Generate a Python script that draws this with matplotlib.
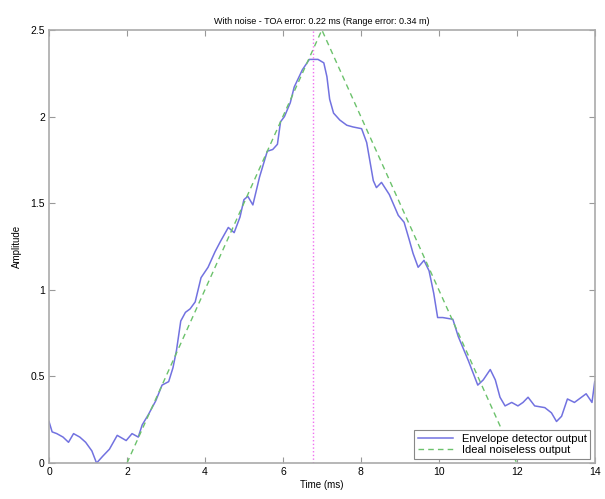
import matplotlib
matplotlib.use('Agg')
import matplotlib.pyplot as plt
import numpy as np

# envelope detector output
env_t = [0.0, 0.08, 0.2, 0.36, 0.5, 0.63, 0.79, 0.94, 1.1, 1.22, 1.38, 1.55, 1.75,
         1.98, 2.13, 2.29, 2.39, 2.55, 2.74, 2.9, 3.07, 3.18, 3.27, 3.38, 3.5, 3.62,
         3.75, 3.9, 4.08, 4.26, 4.4, 4.6, 4.75, 4.9, 5.0, 5.1, 5.23, 5.4, 5.6, 5.74,
         5.86, 5.94, 6.04, 6.19, 6.29, 6.5, 6.68, 6.75, 6.9, 7.05, 7.13, 7.2, 7.3,
         7.46, 7.64, 7.8, 8.02, 8.15, 8.32, 8.4, 8.53, 8.73, 8.96, 9.11, 9.24, 9.34,
         9.47, 9.62, 9.75, 9.87, 9.97, 10.1, 10.36, 10.5, 10.76, 11.0, 11.14, 11.32,
         11.45, 11.57, 11.7, 11.87, 12.03, 12.16, 12.29, 12.46, 12.72, 12.89, 13.02,
         13.15, 13.3, 13.48, 13.6, 13.78, 13.93, 14.0]
env_a = [0.24, 0.18, 0.17, 0.15, 0.12, 0.17, 0.15, 0.12, 0.07, 0.0, 0.04, 0.08, 0.16,
         0.13, 0.17, 0.15, 0.22, 0.28, 0.36, 0.45, 0.47, 0.55, 0.65, 0.82, 0.87, 0.89,
         0.93, 1.07, 1.13, 1.22, 1.28, 1.36, 1.33, 1.42, 1.52, 1.54, 1.49, 1.65, 1.8,
         1.81, 1.84, 1.97, 2.0, 2.08, 2.17, 2.27, 2.33, 2.33, 2.33, 2.31, 2.23, 2.1,
         2.02, 1.98, 1.95, 1.94, 1.93, 1.85, 1.63, 1.59, 1.62, 1.55, 1.43, 1.39, 1.29,
         1.21, 1.13, 1.17, 1.11, 0.98, 0.84, 0.84, 0.83, 0.73, 0.59, 0.45, 0.48, 0.54,
         0.48, 0.38, 0.33, 0.35, 0.33, 0.35, 0.38, 0.33, 0.32, 0.29, 0.24, 0.27, 0.37,
         0.35, 0.37, 0.40, 0.35, 0.47]

# ideal noiseless triangle
ideal_t = [2.0, 7.0, 12.0]
ideal_a = [0.0, 2.5, 0.0]

toa_est = 6.78
title = 'With noise - TOA error: 0.22 ms (Range error: 0.34 m)'

plt.rcParams['font.family'] = ['Liberation Sans', 'DejaVu Sans']

fig = plt.figure(figsize=(6.05, 4.99), dpi=100)
ax = fig.add_axes([0.081, 0.072, 0.902, 0.868])

ax.plot(env_t, env_a, color='#7272e0', lw=1.1, label='Envelope detector output')
ax.plot(ideal_t, ideal_a, color='#6cc26c', lw=1.0, ls='--', dashes=(4, 3),
        label='Ideal noiseless output')
ax.axvline(toa_est, color='#f070f0', lw=1.0, ls=':')

ax.set_xlim(0, 14)
ax.set_ylim(0, 2.5)
ax.set_xticks(np.arange(0, 15, 2))
ax.set_yticks([0, 0.5, 1, 1.5, 2, 2.5])
ax.set_yticklabels(['0', '0.5', '1', '1.5', '2', '2.5'])
ax.tick_params(direction='in', length=4, labelsize=7.5, top=True, right=True,
               color='#999999', pad=3)
for s in ax.spines.values():
    s.set_color('#aaaaaa')
    s.set_linewidth(1.2)

ax.set_title(title, fontsize=6.5, pad=4)
ax.set_xlabel('Time (ms)', fontsize=7, labelpad=2)
ax.set_ylabel('Amplitude', fontsize=7, labelpad=6)

leg = ax.legend(loc='lower right', fontsize=8, fancybox=False, framealpha=1,
                borderaxespad=0.4, handlelength=3.2, borderpad=0.3, labelspacing=0.15)
leg.get_frame().set_edgecolor('#888888')
leg.get_frame().set_linewidth(0.8)

fig.savefig('out.png', dpi=100)
